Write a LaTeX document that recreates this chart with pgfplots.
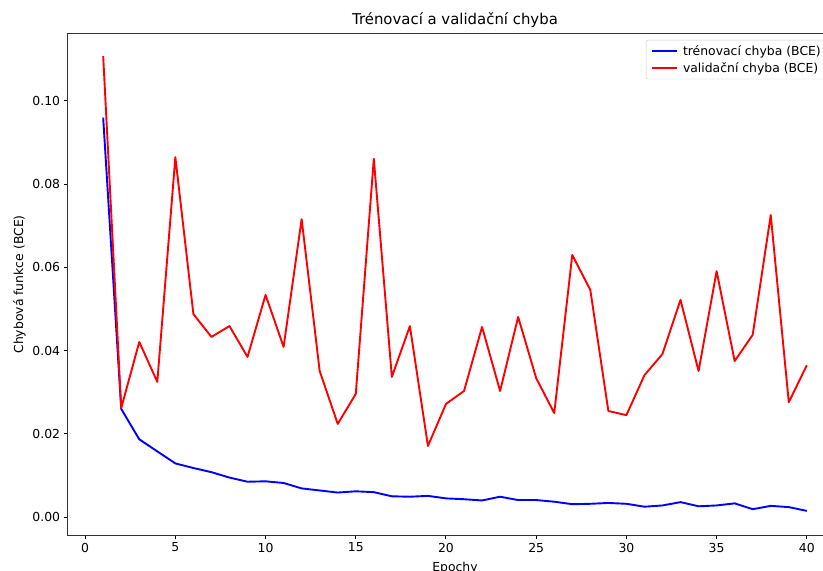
\documentclass[border=0pt]{standalone}
\usepackage{pgfplots}
\pgfplotsset{compat=1.18}
\usepackage{fontspec}
\setmainfont{DejaVu Sans}
\pgfplotstableread{
e train val
1 0.0960 0.1108
2 0.0260 0.0262
3 0.0187 0.0421
4 0.0158 0.0325
5 0.0129 0.0865
6 0.0118 0.0488
7 0.0108 0.0433
8 0.0095 0.0459
9 0.0085 0.0385
10 0.0086 0.0534
11 0.0082 0.0409
12 0.0069 0.0716
13 0.0064 0.0351
14 0.0059 0.0224
15 0.0062 0.0296
16 0.0060 0.0861
17 0.0050 0.0337
18 0.0049 0.0459
19 0.0051 0.0171
20 0.0045 0.0272
21 0.0043 0.0303
22 0.0040 0.0457
23 0.0049 0.0303
24 0.0041 0.0481
25 0.0041 0.0334
26 0.0037 0.0250
27 0.0031 0.0630
28 0.0032 0.0546
29 0.0034 0.0255
30 0.0032 0.0245
31 0.0025 0.0341
32 0.0028 0.0392
33 0.0036 0.0522
34 0.0026 0.0351
35 0.0028 0.0591
36 0.0033 0.0375
37 0.0019 0.0438
38 0.0027 0.0726
39 0.0024 0.0276
40 0.0015 0.0365
}\datatable
\begin{document}
\begin{tikzpicture}
\begin{axis}[
  name=ax,
  scale only axis,
  width=774bp, height=501bp,
  xmin=-0.95, xmax=41.95,
  ymin=-0.0043, ymax=0.1161,
  xtick={0,5,...,40},
  ytick={0,0.02,0.04,0.06,0.08,0.10},
  scaled y ticks=false,
  yticklabel style={/pgf/number format/.cd, fixed, fixed zerofill, precision=2},
  /pgf/number format/assume math mode=true,
  tick align=outside,
  xtick pos=bottom, ytick pos=left,
  major tick length=4.4bp,
  every tick/.style={black, line width=1bp},
  axis line style={black!80, line width=1bp},
  tick label style={font=\fontsize{12.4bp}{14bp}\selectfont},
  label style={font=\fontsize{12.4bp}{14bp}\selectfont},
  title style={font=\fontsize{14.9bp}{17bp}\selectfont, yshift=-3bp},
  title={Trénovací a validační chyba},
  xlabel={Epochy},
  ylabel={Chybová funkce (BCE)},
  xlabel style={yshift=-3bp},
  ylabel style={yshift=0bp},
  legend style={at={(1,1)}, anchor=north east, xshift=-11bp, yshift=-6bp,
    draw=black!20, rounded corners=2bp, fill=white,
    font=\fontsize{12.4bp}{14bp}\selectfont, row sep=4bp,
    inner xsep=5bp, inner ysep=4bp,
    nodes={inner xsep=5bp, inner ysep=1bp}},
  legend cell align=left,
  legend image code/.code={\draw[#1] (0bp,0bp) -- (25bp,0bp);},
]
\addplot[blue, line width=1.9bp, line join=round] table[x=e, y=train] {\datatable};
\addlegendentry{trénovací chyba (BCE)}
\addplot[red, line width=1.9bp, line join=round] table[x=e, y=val] {\datatable};
\addlegendentry{validační chyba (BCE)}
\end{axis}
\pgfresetboundingbox
\path[use as bounding box] ([xshift=-68bp,yshift=-36bp]ax.south west) rectangle ++(823bp,571bp);
\end{tikzpicture}
\end{document}
